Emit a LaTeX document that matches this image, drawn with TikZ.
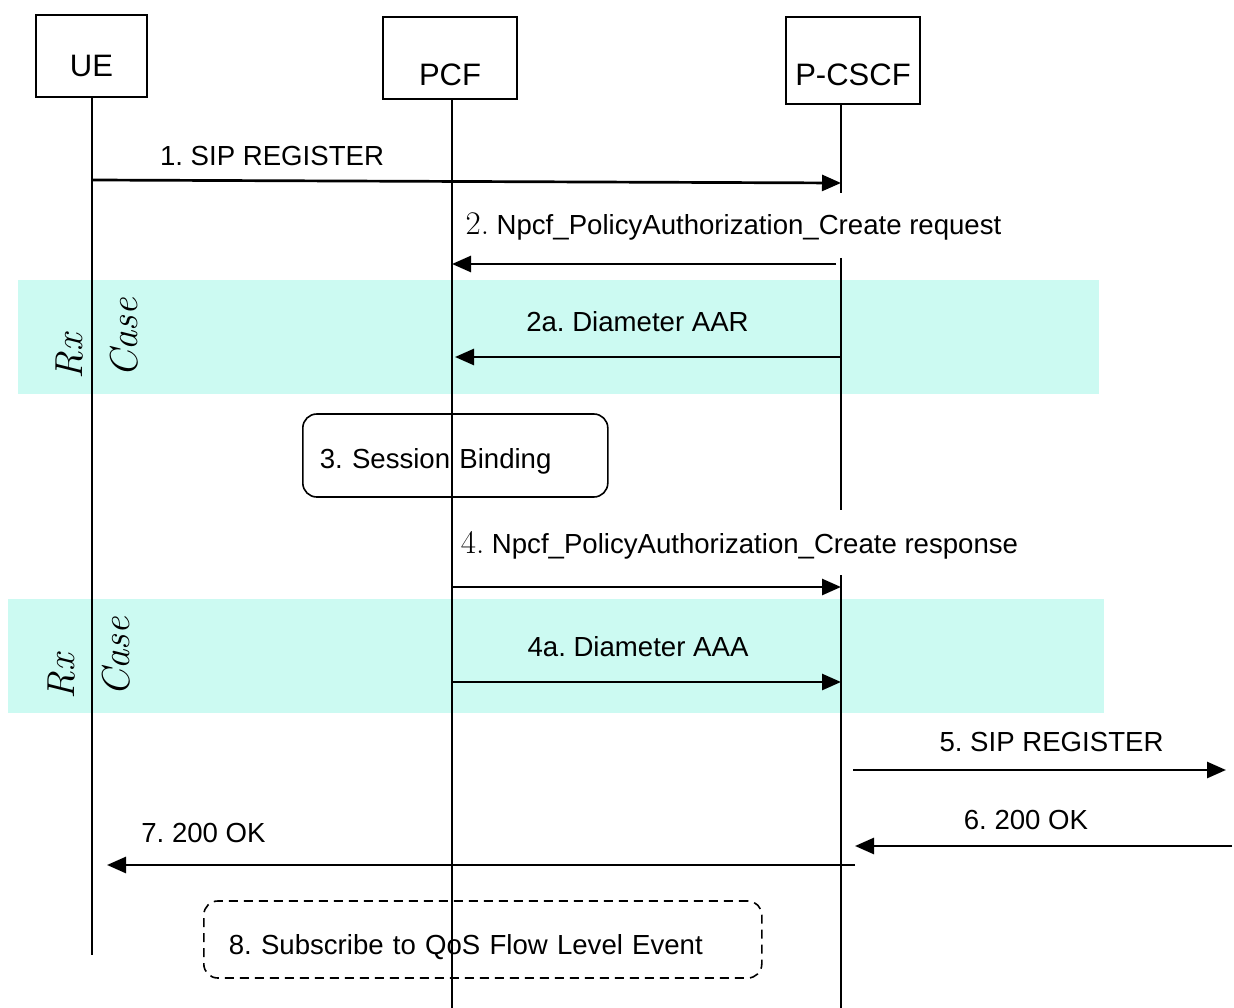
\documentclass[tikz,border=0pt]{standalone}
\usepackage{fontspec}
\newfontfamily\arial{Liberation Sans}
\usetikzlibrary{arrows.meta,positioning,calc}
\definecolor{rxband}{RGB}{204,250,242}
\frenchspacing

\begin{document}
\begin{tikzpicture}[x=1pt,y=-1pt,
  actor/.style={draw,line width=1.6pt,text depth=0pt,font=\arial\fontsize{31}{36}\selectfont},
  life/.style={line width=1.7pt},
  msg/.style={line width=2.7pt,-{Triangle[length=19pt,width=16pt]}},
  lbl/.style={anchor=base,inner sep=0pt,font=\arial\fontsize{27.6}{32}\selectfont},
  procbox/.style={draw,line width=1.6pt,rounded corners=14pt,align=left,
    text depth=5pt,font=\arial\fontsize{27.6}{32}\selectfont},
  rxlbl/.style={rotate=90,anchor=base,inner sep=0pt,font=\itshape\fontsize{39}{42}\selectfont}]
  \useasboundingbox (0,0) rectangle (1234,1008);

  % Rx bands
  \fill[rxband] (18,280) rectangle (1099,394);
  \fill[rxband] (8,599) rectangle (1104,713);
  \foreach \yr/\yc/\xr/\xc in {357/338/82/137, 677/657/74/129} {
    \node[rxlbl] at (\xr,\yr) {Rx};
    \node[rxlbl] at (\xc,\yc) {Case};
  }

  % actors
  \node[actor,minimum width=111,minimum height=82,text height=42pt] (ue) at (91.5,56) {UE};
  \node[actor,minimum width=134,minimum height=82,text height=56pt] (pcf) at (450,58) {PCF};
  \node[actor,minimum width=134,minimum height=87,text height=51pt] (pcscf) at (853,60.5) {P-CSCF};

  % lifelines
  \coordinate (uel) at ($(ue.south)+(0.5,0)$);
  \coordinate (pcfl) at ($(pcf.south)+(2,0)$);
  \coordinate (cscfl) at ($(pcscf.south)+(-12,0)$);
  \draw[life] (uel) -- (uel |- 0,955);
  \draw[life] (pcfl) -- (pcfl |- 0,1008);
  \draw[life] (cscfl) -- (cscfl |- 0,193);
  \draw[life] (cscfl |- 0,258) -- (cscfl |- 0,510);
  \draw[life] (cscfl |- 0,575) -- (cscfl |- 0,1008);

  % processing boxes
  \node[procbox,anchor=west,minimum height=83,text width=271,inner xsep=17pt,text height=30pt]
    (bind) at (302,455.5) {3. Session Binding};
  \node[procbox,dashed,dash pattern=on 9pt off 6pt,anchor=west,minimum height=77,
    text width=508,inner xsep=25pt,text height=34pt]
    (subs) at (203,939.5) {8. Subscribe to QoS Flow Level Event};

  % messages
  \draw[msg] (uel |- 0,180) -- (cscfl |- 0,183);
  \node[lbl] (m1) at (272,166) {1. SIP REGISTER};
  \draw[msg] ($(cscfl |- 0,264)+(-5,0)$) -- (pcfl |- 0,264);
  \node[lbl] (m2) at (733.5,235) {{\rmfamily\fontsize{33}{36}\selectfont 2.} Npcf\_PolicyAuthorization\_Create request};
  \draw[msg] (cscfl |- 0,357) -- ($(pcfl |- 0,357)+(3,0)$);
  \node[lbl] (m2a) at (637.5,331) {2a. Diameter AAR};
  \draw[msg] (pcfl |- 0,587) -- (cscfl |- 0,587);
  \node[lbl] (m4) at (739.5,553) {{\rmfamily\fontsize{33}{36}\selectfont 4.} Npcf\_PolicyAuthorization\_Create response};
  \draw[msg] (pcfl |- 0,682) -- (cscfl |- 0,682);
  \node[lbl] (m4a) at (638,656) {4a. Diameter AAA};

  \coordinate (scscfout) at (1226,770);
  \coordinate (scscfin) at (1232,846);
  \draw[msg] ($(cscfl |- 0,770)+(12,0)$) -- (scscfout);
  \node[lbl] (m5) at (1051.5,751) {5. SIP REGISTER};
  \draw[msg] (scscfin) -- ($(cscfl |- 0,846)+(14,0)$);
  \node[lbl] (m6) at (1026,829) {6. 200 OK};
  \draw[msg] ($(cscfl |- 0,865)+(14,0)$) -- ($(uel |- 0,865)+(15,0)$);
  \node[lbl] (m7) at (203.5,842) {7. 200 OK};
\end{tikzpicture}
\end{document}
